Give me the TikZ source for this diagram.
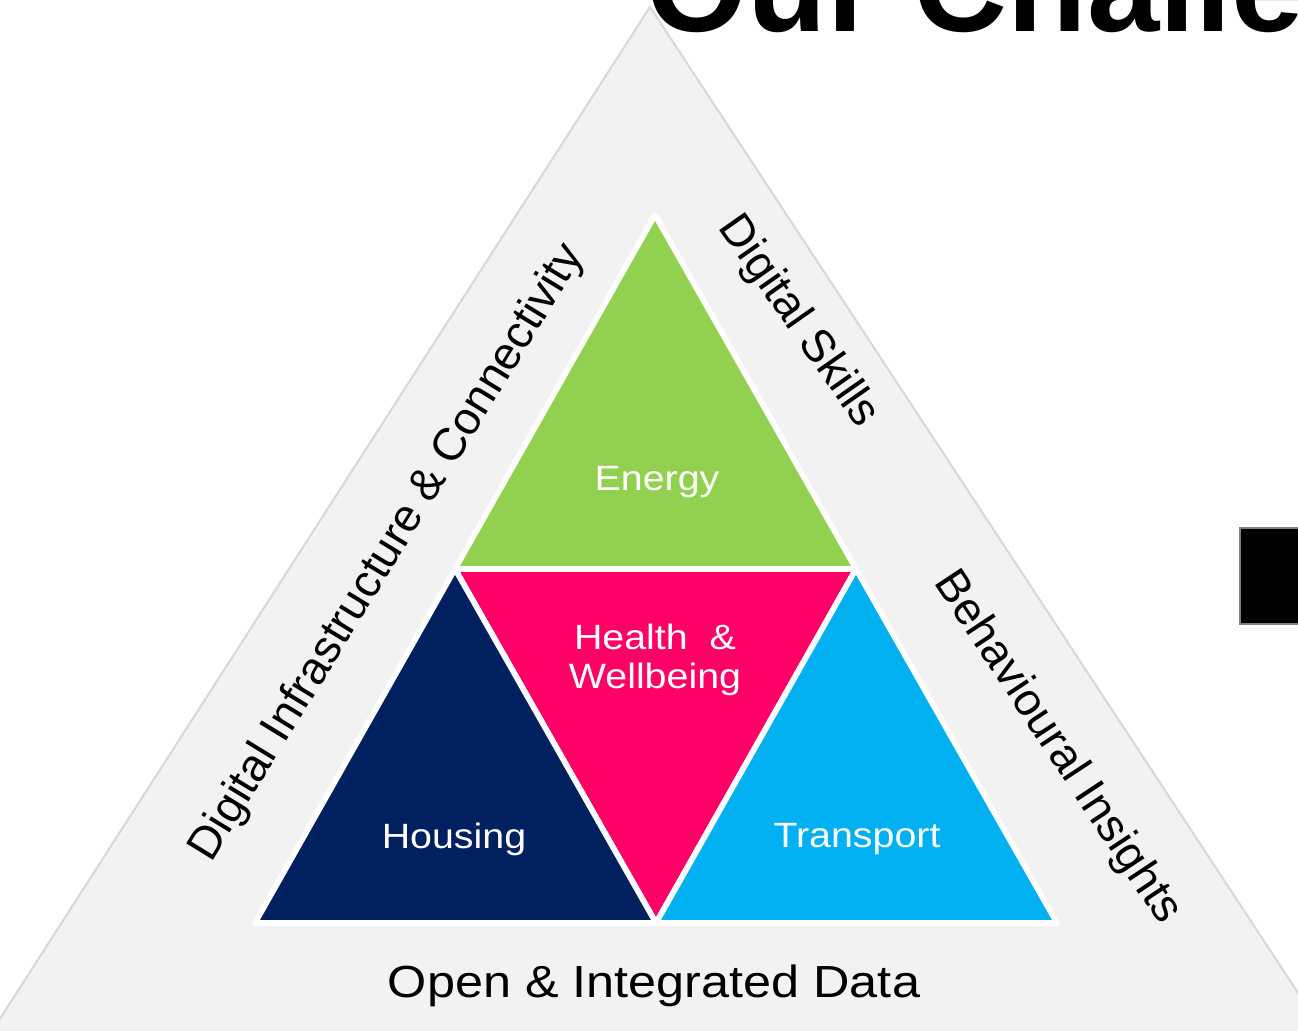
\documentclass[tikz,border=0pt]{standalone}
\usepackage{fontspec}
\setmainfont{Liberation Sans}
\newfontfamily\widefont[FakeStretch=1.12]{Liberation Sans}
\usetikzlibrary{calc}
\definecolor{bandgray}{HTML}{F2F2F2}
\definecolor{edgegray}{HTML}{D9D9D9}
\definecolor{energygreen}{HTML}{92D050}
\definecolor{healthpink}{HTML}{FF0066}
\definecolor{housingnavy}{HTML}{002060}
\definecolor{transportblue}{HTML}{00B0F0}

\begin{document}
\begin{tikzpicture}[
  area/.style={text=white, font=\widefont\fontsize{10}{11}\selectfont, align=center},
  band/.style={text=black, font=\fontsize{13}{15}\selectfont},
  piece/.style={draw=white, line width=1.6pt, line join=round}
]
\useasboundingbox (0,0) rectangle (12.98,10.31);
\clip (0,0) rectangle (12.98,10.31);

% define the outer band
  \coordinate (bandtop) at (6.50,10.24);
  \coordinate (bandleft) at (-0.40,-0.50);
  \coordinate (bandright) at (13.56,-0.50);
  \filldraw[fill=bandgray, draw=edgegray, line width=0.6pt]
    (bandtop) -- (bandleft) -- (bandright) -- cycle;

% define the corners of the inner triangle
  \coordinate (top) at (6.55,8.16);
  \coordinate (left) at (2.55,1.08);
  \coordinate (right) at (10.57,1.08);
  \coordinate (midleft) at ($(top)!0.5!(left)$);
  \coordinate (midright) at ($(top)!0.5!(right)$);
  \coordinate (midbase) at ($(left)!0.5!(right)$);

% define the four pieces
  \filldraw[piece, fill=energygreen] (top) -- (midleft) -- (midright) -- cycle;
  \filldraw[piece, fill=healthpink] (midleft) -- (midright) -- (midbase) -- cycle;
  \filldraw[piece, fill=housingnavy] (midleft) -- (left) -- (midbase) -- cycle;
  \filldraw[piece, fill=transportblue] (midright) -- (midbase) -- (right) -- cycle;

% define the labels
  \node[area] (energy) at (6.57,5.49) {Energy};
  \node[area] (health) at (6.55,3.71) {Health \ \&\\Wellbeing};
  \node[area] (housing) at (4.54,1.92) {Housing};
  \node[area] (transport) at (8.57,1.92) {Transport};

  \node[band, rotate=58.5] (infra) at (3.88,4.78) {Digital Infrastructure \& Connectivity};
  \node[band, rotate=-55] (skills) at (7.98,7.09) {Digital Skills};
  \node[band, rotate=-56.5] (insights) at (10.57,2.83) {Behavioural Insights};
  \node[band, font=\widefont\fontsize{12.8}{15}\selectfont] (data) at (6.54,0.45) {Open \& Integrated Data};

% title and marker
  \node[anchor=base west, inner sep=0pt, font=\bfseries\fontsize{37}{40}\selectfont] (title) at (6.46,9.99) {Our Challe};
  \filldraw[fill=black, draw=gray, line width=0.4pt] (12.40,5.03) rectangle (13.10,4.07);

\end{tikzpicture}
\end{document}
